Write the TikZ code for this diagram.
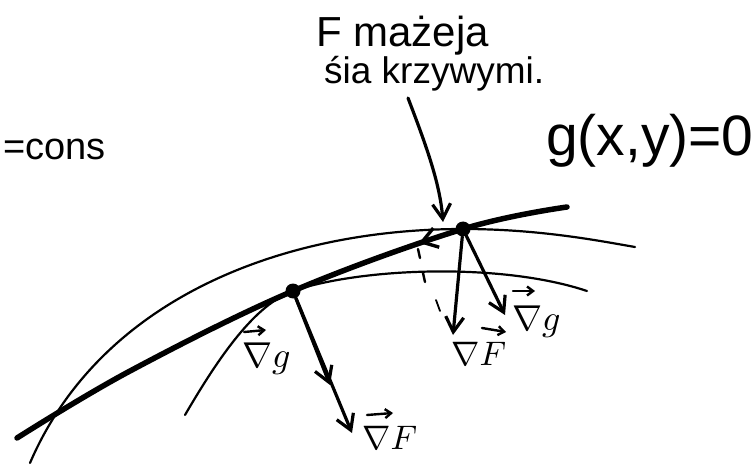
\documentclass[tikz,border=0pt]{standalone}
\usepackage{fontspec}
\setmainfont{Liberation Sans}
\usetikzlibrary{arrows.meta}
\begin{document}
\begin{tikzpicture}[x=1pt,y=-1pt,
  thickcurve/.style={line width=5.5pt,line cap=round},
  thincurve/.style={line width=2.2pt,line cap=round},
  vecarrow/.style={line width=3.2pt,line cap=round,-{Straight Barb[length=15pt,width=18pt]}},
  smallarrow/.style={line width=2.4pt,line cap=round,-{Straight Barb[length=6pt,width=9pt]}},
  tickmark/.style={line width=2.4pt,line cap=round},
  dotnode/.style={circle,fill=black,inner sep=0pt,minimum size=15pt},
  lbl/.style={inner sep=0pt,anchor=base west},
  txt/.style={anchor=base west,inner sep=0pt}]
\useasboundingbox (0,0) rectangle (755,465);

% level curves of F
\draw[thincurve] (30,463) .. controls (100,300) and (280,229) .. (463,229)
                 .. controls (540,229) and (600,241) .. (635,247);
\draw[thincurve] (185,415) .. controls (220,355) and (255,305) .. (293,291)
                 .. controls (360,268) and (500,262) .. (587,291);

% constraint curve g(x,y)=0
\draw[thickcurve] plot[smooth,tension=0.6] coordinates {(17,438) (130,371) (293,291) (463,229) (567,207)};

% points
\node[dotnode] (P) at (293,291) {};
\node[dotnode] (Q) at (463,229) {};

% gradient arrows
\coordinate (QF) at (453,335);
\coordinate (QG) at (505,315);
\coordinate (PG) at (330,385);
\coordinate (PF) at (352,433);
\draw[vecarrow] (Q) -- (QF);
\draw[vecarrow] (Q) -- (QG);
\draw[vecarrow] (P) -- (PG);
\draw[vecarrow] (P) -- (PF);

% tangent direction arrowhead
\coordinate (TA) at (448,234);
\coordinate (TB) at (419,243);
\draw[line width=3.4pt,-{Straight Barb[length=15pt,width=20pt]}] (TA) -- (TB);

% small marks
\draw[tickmark] (418,249) -- (420,258);
\draw[tickmark] (423,273) -- (425,282);
\draw[line width=1.8pt,line cap=round] (436,300) -- (440,311);

% texts
\node[txt,font=\fontsize{42}{48}\selectfont] (t1) at (316,47) {F mażeja};
\node[txt,font=\fontsize{37}{44}\selectfont] (t2) at (324,84) {śia krzywymi.};
\node[txt,font=\fontsize{38}{44}\selectfont] (c) at (3,160) {=cons};
\node[txt,font=\fontsize{57}{64}\selectfont] (g) at (546,156) {g(x,y)=0};

% arrow from the text to the point
\coordinate (A0) at (408,98);
\coordinate (A1) at (443,222);
\draw[vecarrow] (A0) .. controls (428,150) and (440,185) .. (A1);

% labels
\node[lbl] (lQF) at (451,365) {\scalebox{3.4}{$\nabla F$}};
\node[lbl] (lQG) at (512,330) {\scalebox{3.6}{$\nabla g$}};
\node[lbl] (lPG) at (242,367) {\scalebox{3.6}{$\nabla g$}};
\node[lbl] (lPF) at (362,449) {\scalebox{3.4}{$\nabla F$}};
\coordinate (vQF0) at (482,328); \coordinate (vQF1) at (506,332);
\coordinate (vQG0) at (513,291); \coordinate (vQG1) at (535,291);
\coordinate (vPG0) at (244,332); \coordinate (vPG1) at (266,330);
\coordinate (vPF0) at (367,415); \coordinate (vPF1) at (393,413);
\draw[smallarrow] (vQF0) -- (vQF1);
\draw[smallarrow] (vQG0) -- (vQG1);
\draw[smallarrow] (vPG0) -- (vPG1);
\draw[smallarrow] (vPF0) -- (vPF1);
\end{tikzpicture}
\end{document}
